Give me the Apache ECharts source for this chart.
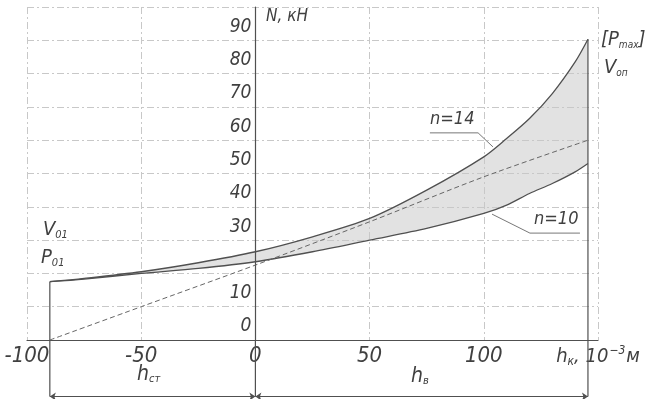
<!DOCTYPE html>
<html><head><meta charset="utf-8">
<script src="https://cdn.jsdelivr.net/npm/echarts@6/dist/echarts.min.js"></script>
<style>html,body{margin:0;padding:0;background:#fff}#c{width:649px;height:399px}</style>
</head><body><div id="c"></div>
<script>
// ---- data ----
const xCurve   = [-90, -75, -50, -25, 0, 25, 50, 75, 100, 110, 120, 130, 140, 145.6];
const upperN14 = [17.5, 18.5, 20.5, 23.2, 26.5, 31, 36.5, 45, 55, 60.5, 66.5, 74, 83.5, 90.3];
const lowerN10 = [17.5, 18.3, 20, 21.5, 23.5, 26.5, 30, 33.5, 38, 40.5, 44, 47, 50.5, 53];
const xDash    = [-90, -50, 0, 50, 100, 145.6];
const yDash    = [0, 10, 22.5, 35.5, 49, 60];
const xTicks   = [-100, -50, 0, 50, 100, 150];
const yTicks   = [0, 10, 20, 30, 40, 50, 60, 70, 80, 90, 100];
const yHiddenLabels = [20, 100];
const hStart = -90, hEnd = 145.6, hZero = 0;
const dimY = -17;
const leader14 = [[76.4, 62.2], [97.5, 62.2], [104, 58]];
const leader10 = [[142.1, 32.1], [120.2, 32.1], [103.6, 37.8]];

const FONT = "'Liberation Sans Narrow','DejaVu Sans Condensed','Liberation Sans',sans-serif";
const TXT = '#404040';
const LINE = '#505050';
const GRIDC = '#c8c8c8';

const pair = (xs, ys) => xs.map((x, i) => [x, ys[i]]);
const xMin = xTicks[0], xMax = xTicks[xTicks.length - 1];
const yMin = yTicks[0], yMax = yTicks[yTicks.length - 1];

const W = 649, GL = 27, GR = 51;
const plotW = W - GL - GR;
const yAxisOffset = -(hZero - xMin) / (xMax - xMin) * plotW;

const chart = echarts.init(document.getElementById('c'), null, {renderer: 'canvas'});
const lastLabel = xMax;
const splitStyle = {color: GRIDC, width: 1, type: [7, 3, 2, 3]};
chart.setOption({
  animation: false,
  backgroundColor: '#fff',
  grid: {left: GL, right: GR, top: 7, bottom: 59},
  xAxis: [{
    type: 'value', min: xMin, max: xMax, interval: 50, z: 4,
    axisLine: {show: true, onZero: true, lineStyle: {color: LINE, width: 1.2}},
    axisTick: {show: false},
    splitLine: {show: false},
    axisLabel: {
      margin: 5, color: TXT, fontFamily: FONT, fontStyle: 'italic', fontSize: 22,
      formatter: v => v === lastLabel ? '{a|h}{s|к}{a|, 10}{p|−3}{a|м}' : String(v),
      rich: {
        a: {fontFamily: FONT, fontStyle: 'italic', fontSize: 20, color: TXT},
        s: {fontFamily: FONT, fontStyle: 'italic', fontSize: 12, color: TXT, padding: [10, 0, 0, 0]},
        p: {fontFamily: FONT, fontStyle: 'italic', fontSize: 12, color: TXT, padding: [0, 1, 12, 1]}
      }
    }
  }, {
    type: 'value', min: xMin, max: xMax, interval: 50, z: 3, position: 'bottom',
    axisLine: {show: false}, axisTick: {show: false}, axisLabel: {show: false},
    splitLine: {show: true, lineStyle: splitStyle}
  }],
  yAxis: [{
    type: 'value', min: yMin, max: yMax, interval: 10, z: 4,
    position: 'left', offset: yAxisOffset,
    axisLine: {show: true, onZero: false, lineStyle: {color: LINE, width: 1.2}},
    axisTick: {show: false},
    splitLine: {show: false},
    axisLabel: {
      margin: 4, color: TXT, fontFamily: FONT, fontStyle: 'italic', fontSize: 19,
      verticalAlign: 'bottom', padding: [0, 0, 4, 0],
      formatter: v => yHiddenLabels.includes(v) ? '' : String(v)
    }
  }, {
    type: 'value', min: yMin, max: yMax, interval: 10, z: 3, position: 'left',
    axisLine: {show: false}, axisTick: {show: false}, axisLabel: {show: false},
    splitLine: {show: true, lineStyle: splitStyle}
  }],
  series: [
    {type: 'line', z: 1, data: pair(xCurve, upperN14), smooth: 0.3, symbol: 'none', silent: true,
     lineStyle: {opacity: 0}, areaStyle: {color: '#e2e2e2', opacity: 1, origin: 'start'}},
    {type: 'line', z: 1, data: pair(xCurve, lowerN10), smooth: 0.3, symbol: 'none', silent: true,
     lineStyle: {opacity: 0}, areaStyle: {color: '#ffffff', opacity: 1, origin: 'start'}},
    {type: 'line', z: 5, data: pair(xCurve, upperN14), smooth: 0.3, symbol: 'none',
     lineStyle: {color: LINE, width: 1.3}},
    {type: 'line', z: 5, data: pair(xCurve, lowerN10), smooth: 0.3, symbol: 'none',
     lineStyle: {color: LINE, width: 1.3}},
    {type: 'line', z: 5, data: pair(xDash, yDash), smooth: 0.3, symbol: 'none',
     lineStyle: {color: '#666', width: 1, type: [5, 3]}},
    {type: 'lines', z: 5, coordinateSystem: 'cartesian2d', clip: false, polyline: true, silent: true,
     lineStyle: {color: LINE, width: 1.2, opacity: 1},
     data: [
       {coords: [[hStart, dimY], [hStart, upperN14[0]]]},
       {coords: [[hZero, dimY], [hZero, 0]]},
       {coords: [[hEnd, dimY], [hEnd, upperN14[upperN14.length - 1]]]}
     ]},
    {type: 'lines', z: 5, coordinateSystem: 'cartesian2d', clip: false, silent: true,
     symbol: ['arrow', 'arrow'], symbolSize: 6,
     lineStyle: {color: LINE, width: 1, opacity: 1},
     data: [
       {coords: [[hStart, dimY], [hZero, dimY]]},
       {coords: [[hZero, dimY], [hEnd, dimY]]}
     ]},
    {type: 'lines', z: 5, coordinateSystem: 'cartesian2d', polyline: true, silent: true,
     lineStyle: {color: '#777', width: 1, opacity: 1},
     data: [{coords: leader14}, {coords: leader10}]}
  ],
  graphic: [
    {type: 'text', z: 20, left: 266, top: 8, style: {text: 'N, кН', font: `italic 17px ${FONT}`, fill: TXT}},
    {type: 'text', z: 20, left: 430, top: 110, style: {text: 'n=14', font: `italic 18px ${FONT}`, fill: TXT}},
    {type: 'text', z: 20, left: 534, top: 210, style: {text: 'n=10', font: `italic 18px ${FONT}`, fill: TXT}},
    {type: 'text', z: 20, left: 43, top: 220, style: {
      text: '{a|V}{s|01}', rich: {a: {font: `italic 20px ${FONT}`, fill: TXT}, s: {font: `italic 11px ${FONT}`, fill: TXT, padding: [10, 0, 0, 0]}}}},
    {type: 'text', z: 20, left: 41, top: 248, style: {
      text: '{a|P}{s|01}', rich: {a: {font: `italic 20px ${FONT}`, fill: TXT}, s: {font: `italic 11px ${FONT}`, fill: TXT, padding: [10, 0, 0, 0]}}}},
    {type: 'text', z: 20, left: 601, top: 30, style: {
      text: '{a|[P}{s|max}{a|]}', rich: {a: {font: `italic 20px ${FONT}`, fill: TXT}, s: {font: `italic 10px ${FONT}`, fill: TXT, padding: [10, 0, 0, 0]}}}},
    {type: 'text', z: 20, left: 604, top: 58, style: {
      text: '{a|V}{s|оп}', rich: {a: {font: `italic 20px ${FONT}`, fill: TXT}, s: {font: `italic 10px ${FONT}`, fill: TXT, padding: [10, 0, 0, 0]}}}},
    {type: 'text', z: 20, left: 137, top: 364, style: {
      text: '{a|h}{s|ст}', rich: {a: {font: `italic 21px ${FONT}`, fill: TXT}, s: {font: `italic 11px ${FONT}`, fill: TXT, padding: [10, 0, 0, 0]}}}},
    {type: 'text', z: 20, left: 411, top: 366, style: {
      text: '{a|h}{s|в}', rich: {a: {font: `italic 21px ${FONT}`, fill: TXT}, s: {font: `italic 11px ${FONT}`, fill: TXT, padding: [10, 0, 0, 0]}}}}
  ]
});
</script></body></html>
